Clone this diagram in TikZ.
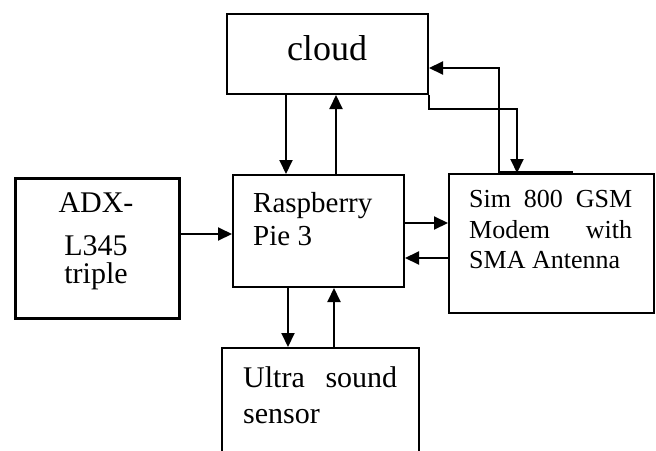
\documentclass[tikz,border=0pt]{standalone}
\usepackage{fontspec}
\setmainfont{Liberation Serif}
\usetikzlibrary{arrows.meta}
\begin{document}
\begin{tikzpicture}[x=1pt,y=-1pt,
  box/.style={draw, line width=2pt, rectangle, inner sep=0pt, anchor=north west},
  arr/.style={line width=2pt, -{Triangle[length=14pt,width=13pt]}},
  lbl/.style={inner sep=0pt, anchor=base west},
  ]
\clip (0,0) rectangle (656,450);
\fill[white] (0,0) rectangle (656,450);
% boxes
\node[box, minimum width=201pt, minimum height=80pt] (cloud) at (226,13) {};
\node[box, minimum width=171pt, minimum height=112pt] (rasp) at (232,174) {};
\node[box, line width=3pt, minimum width=164pt, minimum height=140pt] (adx) at (14,177) {};
\node[box, minimum width=205pt, minimum height=139pt] (sim) at (448,173) {};
\node[box, minimum width=197pt, minimum height=130pt] (ultra) at (221,347) {};
% texts
\node[inner sep=0pt, anchor=base, font=\fontsize{36}{40}\selectfont] (cloudt) at (327,60) {cloud};
\node[lbl, font=\fontsize{29}{33}\selectfont] (rasp1) at (253,212) {Raspberry};
\node[lbl, font=\fontsize{29}{33}\selectfont] (rasp2) at (253,245) {Pie 3};
\node[inner sep=0pt, anchor=base, font=\fontsize{30}{34}\selectfont] (adx1) at (96,212) {ADX-};
\node[inner sep=0pt, anchor=base, font=\fontsize{30}{34}\selectfont] (adx2) at (96,255) {L345};
\node[inner sep=0pt, anchor=base, font=\fontsize{30}{34}\selectfont] (adx3) at (96,283) {triple};
\node[lbl, font=\fontsize{26}{31}\selectfont] (sim1) at (469,207) {\makebox[163pt][s]{Sim 800 GSM}};
\node[lbl, font=\fontsize{26}{31}\selectfont] (sim2) at (469,238) {\makebox[163pt][s]{Modem with}};
\node[lbl, font=\fontsize{26}{31}\selectfont] (sim3) at (469,268) {SMA Antenna};
\node[lbl, font=\fontsize{30}{36}\selectfont] (ultra1) at (243,387) {\makebox[154pt][s]{Ultra sound}};
\node[lbl, font=\fontsize{30}{36}\selectfont] (ultra2) at (243,423) {sensor};
% connectors
\draw[arr] (286,0 |- cloud.south) -- (286,0 |- rasp.north);
\draw[arr] (336,0 |- rasp.north) -- (336,0 |- cloud.south);
\draw[arr] (adx.east |- 0,234) -- (rasp.west |- 0,234);
\draw[arr] (rasp.east |- 0,223) -- (sim.west |- 0,223);
\draw[arr] (sim.west |- 0,258) -- (rasp.east |- 0,258);
\draw[arr] (288,0 |- rasp.south) -- (288,0 |- ultra.north);
\draw[arr] (334,0 |- ultra.north) -- (334,0 |- rasp.south);
\draw[arr] (cloud.south east) -- ++(0,14) -| (517,0 |- sim.north);
\draw[arr] (499,0 |- sim.north) |- (cloud.east |- 0,68);
\draw[line width=3.2pt] (499,0 |- sim.north) -- (573,0 |- sim.north);
\end{tikzpicture}
\end{document}
